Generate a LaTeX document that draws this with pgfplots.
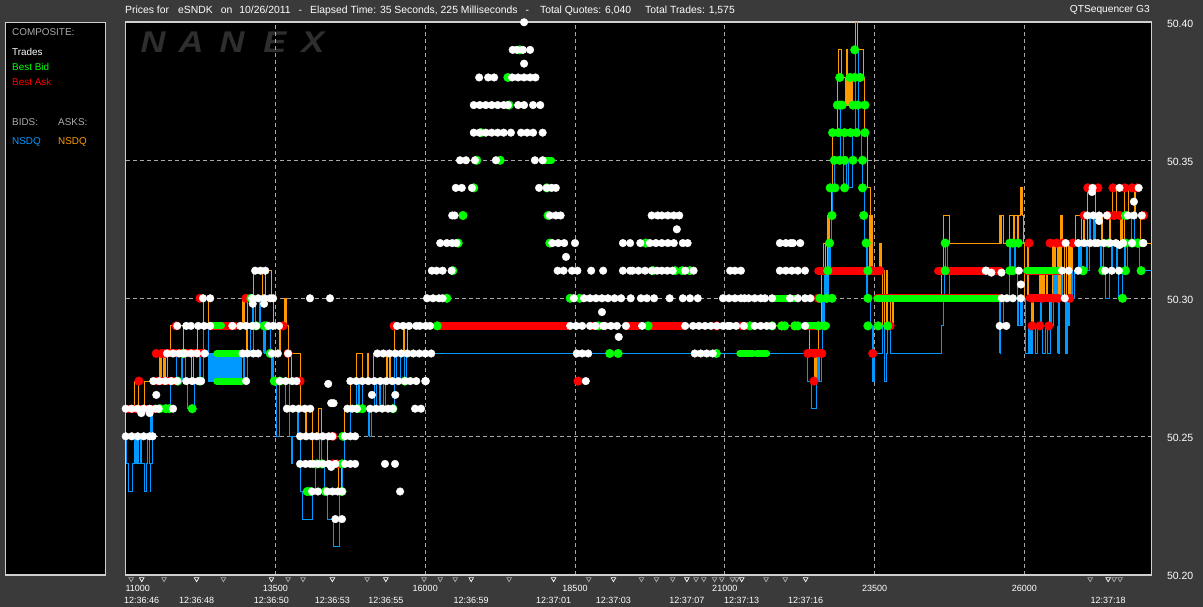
\documentclass[border=0pt]{standalone}
\usepackage{fontspec}
\setmainfont{Liberation Sans}
\usepackage{pgfplots}
\pgfplotsset{compat=1.18}
\definecolor{bg}{HTML}{3A3A3A}
\definecolor{frm}{HTML}{CFCFCF}
\definecolor{gridc}{HTML}{A8A8A8}
\definecolor{bidc}{HTML}{0099FF}
\definecolor{askc}{HTML}{FF9900}
\definecolor{lab}{HTML}{ABABAB}
\definecolor{logo}{HTML}{2E2E2E}
\newcommand\tx[4]{\node[anchor=west,inner sep=0pt,text=#3,font=\fontsize{9.9}{11}\selectfont] at (#1,{607-#2}) {#4};}
\newcommand\logoL[2]{\node[inner sep=0pt,text=logo,font=\fontsize{30}{30}\selectfont\bfseries\itshape] at (#1,{607-42.5}) {\scalebox{1.15}[1]{#2}};}
\newcommand\pulse[5]{\addplot[#1,line width=#2pt,forget plot] coordinates {(#3,#4)(#3,#5)};}
\pgfplotsset{
 base/.style={at={(125.5pt,32pt)},anchor=south west,scale only axis,width=1026pt,height=553pt,
   xmin=10996,xmax=28124,ymin=50.19975,ymax=50.4001,scaled x ticks=false,scaled y ticks=false},
 tradeM/.style={only marks,mark=*,color=white,mark size=3.8pt,mark options={fill=white,draw=white,line width=0.4pt},forget plot},
 bidM/.style={only marks,mark=*,color=green,mark size=4.3pt,mark options={fill=green,draw=green,line width=0.4pt},forget plot},
 askM/.style={only marks,mark=*,color=red,mark size=4.3pt,mark options={fill=red,draw=red,line width=0.4pt},forget plot},
 rb/.style={draw=red,line width=8pt,line cap=round,forget plot},
 gb/.style={draw=green,line width=7pt,line cap=round,forget plot},
}
\begin{document}
\begin{tikzpicture}[x=1pt,y=1pt]
\fill[bg] (0,0) rectangle (1203,607);
\fill[black,draw=frm,line width=1.2pt] (5.5,32) rectangle (105.5,584.5);
\fill[black] (125.5,32) rectangle (1151.5,585);
\logoL{153}{N}\logoL{191}{A}\logoL{232}{N}\logoL{275}{E}\logoL{313}{X}
\tx{12}{32}{lab}{COMPOSITE:}
\tx{12}{52}{white}{Trades}
\tx{12}{67}{green}{Best Bid}
\tx{12}{82}{red}{Best Ask}
\tx{12}{122}{lab}{BIDS:}
\tx{58}{122}{lab}{ASKS:}
\tx{12}{142}{bidc}{NSDQ}
\tx{58}{142}{askc}{NSDQ}
\node[anchor=west,inner sep=0pt,text=white,font=\fontsize{10.4}{11}\selectfont] at (125,596.5) {Prices for\hspace{9pt}eSNDK\hspace{8pt}on\hspace{7pt}10/26/2011\hspace{8pt}-\hspace{8pt}Elapsed Time: 35 Seconds, 225 Milliseconds\hspace{8pt}-\hspace{11pt}Total Quotes: 6,040\hspace{14pt}Total Trades: 1,575};
\node[anchor=east,inner sep=0pt,text=white,font=\fontsize{10.2}{11}\selectfont] at (1150,596.5) {QTSequencer G3};
\begin{axis}[base,
  axis line style={frm,line width=1.3pt},
  xtick={11000,13500,16000,18500,21000,23500,26000},
  xticklabels={\hspace*{24pt}11000,13500,16000,18500,21000,23500,26000},
  ytick={50.20,50.25,50.30,50.35,50.40},
  xmajorgrids,ymajorgrids,
  grid style={gridc,line width=0.9pt,dash pattern=on 4pt off 3pt},
  major tick length=0pt,
  yticklabel pos=right,
  x tick label style={font=\fontsize{9}{10}\selectfont,text=white,anchor=center,yshift=-13.5pt},
  y tick label style={font=\fontsize{10.5}{11}\selectfont,text=white,anchor=west,xshift=12pt,yshift=-1.5pt},
  yticklabel style={/pgf/number format/fixed,/pgf/number format/precision=2,/pgf/number format/fixed zerofill,/pgf/number format/assume math mode=true},
  axis on top=false,
]
% composite line and NSDQ ask / bid
\addplot[gray,line width=0.8pt,forget plot] coordinates {(16080,50.28)(22400,50.28)};
\addplot[fill=bidc,draw=none,forget plot] coordinates {(12380,50.2695)(12930,50.2695)(12930,50.28)(12380,50.28)};
\addplot[const plot,askc,line width=1pt,forget plot] coordinates {
(11000,50.26)(11140,50.27)(11220,50.26)(11320,50.27)(11570,50.28)(11590,50.27)(11605,50.28)(11625,50.27)(11655,50.28)(11670,50.27)(11690,50.28)(11755,50.29)(11970,50.28)(12105,50.27)(12125,50.28)(12205,50.29)(12290,50.30)(12375,50.29)(12960,50.30)(12975,50.29)(13010,50.28)(13025,50.29)(13040,50.30)(13125,50.31)(13275,50.30)(13340,50.31)(13440,50.30)(13475,50.29)(13575,50.28)(13590,50.29)(13660,50.30)(13690,50.29)(13710,50.27)(13775,50.28)(13910,50.26)(13995,50.25)(14010,50.26)(14110,50.24)(14125,50.25)(14210,50.26)(14275,50.24)(14360,50.25)(14375,50.24)(14560,50.23)(14595,50.24)(14660,50.26)(14745,50.27)(14860,50.28)(14945,50.27)(15030,50.28)(15060,50.27)(15130,50.28)(15360,50.27)(15375,50.28)(15410,50.27)(15425,50.28)(15495,50.29)(15630,50.28)(15650,50.29)(15660,50.28)(15700,50.29)
(22420,50.28)(22505,50.27)(22530,50.28)(22570,50.29)(22620,50.31)(22655,50.32)(22690,50.31)(22720,50.33)(22755,50.32)(22790,50.34)(22805,50.36)(22875,50.38)(22905,50.39)(22955,50.38)(23020,50.37)(23040,50.39)(23055,50.37)(23090,50.38)(23140,50.37)(23175,50.40)(23210,50.39)(23275,50.39)(23310,50.38)(23340,50.36)(23375,50.34)(23425,50.33)(23460,50.31)(23590,50.32)(23610,50.31)(23625,50.29)(23660,50.31)(23675,50.29)(23695,50.31)(23725,50.29)(23775,50.30)(23795,50.29)(23810,50.30)
(24610,50.31)(24645,50.33)(24745,50.32)(25580,50.33)(25595,50.32)(25625,50.33)(25645,50.32)(25760,50.33)(25825,50.32)(25845,50.33)(25895,50.32)(25910,50.33)(25940,50.34)(25975,50.33)(25995,50.32)(26010,50.30)(26060,50.32)(26075,50.30)(26140,50.29)(26160,50.30)(26260,50.31)(26275,50.30)(26310,50.31)(26325,50.30)(26375,50.31)(26390,50.30)(26425,50.29)(26445,50.30)(26475,50.32)(26510,50.31)(26560,50.32)(26592,50.30)(26625,50.33)(26645,50.32)(26675,50.30)(26710,50.32)(26745,50.30)(26775,50.32)(26792,50.30)(26810,50.32)(26860,50.33)(26960,50.32)(26990,50.33)(27010,50.32)(27060,50.34)(27193,50.33)(27290,50.32)(27310,50.33)(27427,50.32)(27445,50.33)(27480,50.34)(27544,50.33)(27610,50.32)(27630,50.33)(27644,50.32)(27677,50.34)(27745,50.33)(27845,50.34)(27860,50.33)(27945,50.32)(28124,50.32)};
\addplot[const plot,bidc,line width=1pt,forget plot] coordinates {
(11000,50.25)(11020,50.24)(11040,50.23)(11120,50.24)(11140,50.25)(11155,50.24)(11170,50.25)(11190,50.24)(11205,50.25)(11220,50.24)(11240,50.25)(11270,50.24)(11320,50.23)(11340,50.24)(11355,50.25)(11390,50.24)(11405,50.23)(11420,50.24)(11440,50.25)(11455,50.26)(11755,50.27)(11840,50.28)(11855,50.27)(11955,50.28)(11990,50.27)(12025,50.26)(12140,50.27)(12225,50.28)(12240,50.27)(12290,50.29)(12375,50.28)(12925,50.27)(12960,50.28)(12990,50.27)(13025,50.28)(13075,50.29)(13090,50.28)(13125,50.30)(13160,50.29)(13240,50.30)(13255,50.29)(13310,50.28)(13340,50.29)(13410,50.28)(13440,50.27)(13525,50.25)(13575,50.27)(13660,50.26)(13675,50.27)(13740,50.25)(13775,50.24)(13790,50.25)(13860,50.26)(13880,50.25)(13910,50.23)(13945,50.22)(14110,50.23)(14175,50.24)(14240,50.25)(14260,50.24)(14310,50.23)(14360,50.22)(14460,50.21)(14575,50.23)(14625,50.24)(14660,50.25)(14745,50.26)(14860,50.27)(14945,50.26)(15075,50.25)(15100,50.26)(15160,50.27)(15180,50.26)(15230,50.27)(15250,50.26)(15310,50.27)(15330,50.26)(15495,50.28)(15515,50.27)(15580,50.28)(15660,50.27)(15680,50.28)
(22380,50.27)(22450,50.26)(22530,50.27)(22560,50.28)(22575,50.27)(22610,50.28)(22640,50.29)(22660,50.30)(22690,50.31)(22755,50.32)(22780,50.33)(22805,50.34)(22840,50.35)(22925,50.37)(22940,50.36)(22975,50.35)(22990,50.34)(23040,50.35)(23060,50.34)(23140,50.36)(23190,50.39)(23225,50.37)(23240,50.36)(23290,50.35)(23305,50.34)(23325,50.33)(23340,50.32)(23375,50.30)(23425,50.29)(23460,50.27)(23495,50.28)(23590,50.28)(23640,50.29)(23675,50.27)(23695,50.28)(23725,50.29)(23760,50.28)
(24610,50.29)(24645,50.30)(24665,50.31)(24680,50.32)(24715,50.31)(24760,50.30)(25595,50.28)(25610,50.30)(25645,50.29)(25660,50.30)(25760,50.32)(25775,50.31)(25845,50.32)(25860,50.31)(25895,50.30)(25910,50.29)(25945,50.30)(25960,50.29)(25975,50.30)(26025,50.28)(26075,50.29)(26090,50.28)(26140,50.29)(26192,50.28)(26225,50.29)(26275,50.30)(26292,50.29)(26310,50.28)(26360,50.29)(26392,50.28)(26442,50.30)(26460,50.29)(26492,50.31)(26560,50.30)(26575,50.28)(26592,50.30)(26626,50.31)(26642,50.30)(26692,50.28)(26725,50.29)(26759,50.30)(26792,50.31)(26810,50.30)(26840,50.31)(26926,50.32)(26960,50.31)(27042,50.32)(27060,50.31)(27092,50.33)(27110,50.32)(27160,50.33)(27193,50.32)(27277,50.31)(27295,50.32)(27327,50.31)(27360,50.30)(27427,50.31)(27460,50.32)(27480,50.31)(27544,50.32)(27560,50.31)(27577,50.30)(27644,50.31)(27677,50.32)(27695,50.31)(27727,50.32)(27794,50.33)(27845,50.32)(27928,50.31)(28124,50.31)};
\addplot[bidc,line width=1pt,dash pattern=on 5pt off 2pt,forget plot] coordinates {(16080,50.28)(22400,50.28)};
% dense quote flicker, seen as thicker verticals
\pulse{bidc}{3}{22560}{50.27}{50.28}
\pulse{bidc}{3}{22650}{50.29}{50.30}
\pulse{bidc}{5}{22700}{50.30}{50.31}
\pulse{bidc}{3}{22755}{50.31}{50.32}
\pulse{bidc}{2}{23375}{50.30}{50.32}
\pulse{bidc}{2}{23470}{50.27}{50.29}
\pulse{askc}{2}{22500}{50.27}{50.28}
\pulse{askc}{2}{22720}{50.32}{50.33}
\pulse{askc}{4}{23090}{50.37}{50.38}
\pulse{askc}{3}{23430}{50.31}{50.33}
\pulse{askc}{2}{23590}{50.31}{50.32}
\pulse{bidc}{2}{11940}{50.27}{50.28}
\pulse{bidc}{2}{14890}{50.26}{50.27}
\pulse{bidc}{2}{15060}{50.25}{50.26}
\pulse{bidc}{2}{13770}{50.24}{50.25}
\pulse{bidc}{2}{13310}{50.28}{50.29}
\pulse{bidc}{2.5}{13460}{50.27}{50.28}
\pulse{bidc}{2}{11430}{50.25}{50.26}
\pulse{bidc}{3}{11170}{50.24}{50.25}
\pulse{bidc}{2}{13120}{50.29}{50.30}
\pulse{askc}{2}{11570}{50.27}{50.28}
\pulse{askc}{2}{12960}{50.29}{50.30}
\pulse{askc}{2}{13020}{50.28}{50.29}
\pulse{askc}{2.5}{13660}{50.29}{50.30}
\pulse{bidc}{4}{26090}{50.28}{50.29}
\pulse{bidc}{4}{26525}{50.30}{50.31}
\pulse{bidc}{2.5}{26560}{50.28}{50.29}
\pulse{bidc}{3}{26710}{50.28}{50.29}
\pulse{bidc}{3}{26725}{50.29}{50.30}
\pulse{bidc}{2.5}{26926}{50.31}{50.32}
\pulse{bidc}{2}{27160}{50.32}{50.33}
\pulse{bidc}{2}{25960}{50.29}{50.30}
\pulse{bidc}{2}{25600}{50.28}{50.30}
\pulse{bidc}{2}{25770}{50.31}{50.32}
\pulse{bidc}{2}{25845}{50.31}{50.32}
\pulse{bidc}{2}{25900}{50.29}{50.30}
\pulse{askc}{2}{25960}{50.33}{50.34}
\pulse{askc}{2.5}{26140}{50.29}{50.30}
\pulse{askc}{4}{26290}{50.30}{50.31}
\pulse{askc}{2.5}{26325}{50.30}{50.31}
\pulse{askc}{3}{26510}{50.31}{50.32}
\pulse{askc}{3}{26592}{50.30}{50.32}
\pulse{askc}{2.5}{26625}{50.32}{50.33}
\pulse{askc}{2.5}{26745}{50.30}{50.32}
% best ask bars
\addplot[rb] coordinates {(12410,50.29)(12830,50.29)};
\addplot[rb] coordinates {(16190,50.29)(18380,50.29)};
\addplot[rb] coordinates {(18770,50.29)(18900,50.29)};
\addplot[rb] coordinates {(19360,50.29)(19550,50.29)};
\addplot[rb] coordinates {(19750,50.29)(20300,50.29)};
\addplot[rb] coordinates {(22380,50.29)(22620,50.29)};
\addplot[rb] coordinates {(22380,50.28)(22620,50.28)};
\addplot[rb] coordinates {(22560,50.31)(23590,50.31)};
\addplot[rb] coordinates {(23540,50.30)(25590,50.30)};
\addplot[rb] coordinates {(24560,50.31)(25600,50.31)};
\addplot[rb] coordinates {(26090,50.30)(26480,50.30)};
\addplot[rb] coordinates {(26040,50.31)(26590,50.31)};
\addplot[rb] coordinates {(11000,50.26)(11550,50.26)};
\addplot[rb] coordinates {(11700,50.28)(12300,50.28)};
\addplot[rb] coordinates {(11500,50.27)(11860,50.27)};
\addplot[rb] coordinates {(21270,50.29)(21350,50.29)};
% best bid bars
\addplot[gb] coordinates {(12520,50.28)(12960,50.28)};
\addplot[gb] coordinates {(12520,50.27)(12940,50.27)};
\addplot[gb] coordinates {(12410,50.29)(12600,50.29)};
\addplot[gb] coordinates {(17960,50.35)(18110,50.35)};
\addplot[gb] coordinates {(23540,50.30)(25590,50.30)};
\addplot[gb] coordinates {(26040,50.31)(26590,50.31)};
\addplot[gb] coordinates {(21790,50.30)(22210,50.30)};
\addplot[gb] coordinates {(22390,50.29)(22700,50.29)};
\addplot[gb] coordinates {(21250,50.28)(21470,50.28)};
\addplot[gb] coordinates {(21530,50.28)(21700,50.28)};
% best ask marks
\addplot[askM] coordinates {(11220,50.27)(11510,50.28)(11600,50.28)(11660,50.28)(11840,50.29)(12240,50.30)(13008,50.30)(13625,50.29)(13710,50.28)(13910,50.27)(14460,50.25)(14530,50.24)(14460,50.24)(15480,50.29)(18550,50.27)(23590,50.31)(23460,50.31)(22560,50.30)(23760,50.29)(22390,50.28)(22500,50.28)(22620,50.28)(23470,50.28)(22490,50.27)(27060,50.34)(27230,50.34)(27480,50.34)(27680,50.34)(27800,50.34)(27880,50.34)(27000,50.33)(27400,50.33)(27500,50.33)(27590,50.33)(27990,50.33)(26080,50.32)(26430,50.32)(26540,50.32)(26650,50.32)(26810,50.32)(26130,50.29)(26260,50.29)(26410,50.29)(26130,50.30)(26290,50.30)(26480,50.30)(26560,50.30)(26760,50.30)(21950,50.29)(22170,50.29)(20860,50.29)};
% best bid marks
\addplot[bidM] coordinates {(11570,50.26)(11670,50.26)(11730,50.26)(12110,50.26)(14870,50.26)(14950,50.26)(15460,50.26)(13480,50.27)(13570,50.27)(12240,50.27)(11870,50.27)(15660,50.27)(13410,50.28)(11960,50.28)(13175,50.29)(13310,50.29)(13350,50.29)(13090,50.30)(14190,50.24)(14280,50.24)(14610,50.24)(14030,50.23)(14080,50.23)(14330,50.23)(14610,50.23)(14625,50.25)(17380,50.38)(17580,50.39)(17400,50.37)(16930,50.36)(16860,50.35)(17250,50.35)(16810,50.34)(18030,50.34)(16630,50.33)(18050,50.33)(16550,50.32)(18080,50.32)(19680,50.32)(16460,50.31)(19800,50.31)(20170,50.31)(20290,50.31)(20420,50.31)(16360,50.30)(18420,50.30)(18580,50.30)(16200,50.29)(19720,50.29)(18890,50.29)(19080,50.28)(19220,50.28)(20860,50.28)
(21420,50.29)(21790,50.29)(21950,50.29)(22000,50.29)(22170,50.29)(22220,50.29)(23170,50.39)(22920,50.38)(23090,50.38)(23170,50.38)(23260,50.38)(22920,50.37)(22880,50.37)(22960,50.37)(23140,50.37)(23220,50.37)(23340,50.37)(22800,50.36)(22900,50.36)(23000,50.36)(23100,50.36)(23200,50.36)(23340,50.36)(22830,50.35)(22920,50.35)(23000,50.35)(23140,50.35)(23300,50.35)(22760,50.34)(22840,50.34)(23000,50.34)(23300,50.34)(22790,50.33)(23320,50.33)(22750,50.32)(23360,50.32)(22720,50.31)(23390,50.31)(22590,50.30)(22700,50.30)(22790,50.30)(23390,50.30)(22560,50.29)(22670,50.29)(23390,50.29)(23560,50.29)(23720,50.29)(24680,50.32)(25760,50.32)(25810,50.32)(25900,50.32)(24680,50.31)(25760,50.31)(25810,50.31)(26980,50.31)(27310,50.31)(27690,50.33)(27950,50.31)(27690,50.32)(27800,50.32)(27890,50.32)(27900,50.32)(27640,50.30)(27690,50.31)(26980,50.31)(27410,50.32)};
% trades
\addplot[tradeM] coordinates {
(11000,50.26)(11100,50.26)(11200,50.26)(11300,50.26)(11400,50.26)(11500,50.26)(11550,50.26)(11790,50.26)(13690,50.26)(13790,50.26)(13890,50.26)(13990,50.26)(14080,50.26)(14700,50.26)(14780,50.26)(14860,50.26)(15080,50.26)(15180,50.26)(15280,50.26)(15380,50.26)(15460,50.26)(15830,50.26)(15930,50.26)
(11000,50.25)(11100,50.25)(11200,50.25)(11300,50.25)(11400,50.25)(11450,50.25)(13910,50.25)(14010,50.25)(14110,50.25)(14190,50.25)(14290,50.25)(14390,50.25)(14450,50.25)(14660,50.25)(14750,50.25)(14830,50.25)
(13910,50.24)(14000,50.24)(14080,50.24)(14130,50.24)(14210,50.24)(14290,50.24)(14390,50.24)(14500,50.24)(14660,50.24)(14750,50.24)(14830,50.24)(15328,50.24)(15495,50.24)
(14110,50.23)(14210,50.23)(14360,50.23)(14450,50.23)(14540,50.23)(14610,50.23)(15580,50.23)(14500,50.22)(14610,50.22)
(11260,50.2584)(11400,50.2584)(11510,50.265)(14380,50.269)(14430,50.262)(14470,50.262)(15110,50.265)(15500,50.265)(14430,50.2389)(13120,50.298)(13310,50.298)
(11460,50.27)(11560,50.27)(11660,50.27)(11760,50.27)(11860,50.27)(12010,50.27)(12110,50.27)(12210,50.27)(12260,50.27)(13010,50.27)(13570,50.27)(13670,50.27)(13780,50.27)(13850,50.27)(14750,50.27)(14850,50.27)(14950,50.27)(15050,50.27)(15150,50.27)(15250,50.27)(15350,50.27)(15450,50.27)(15550,50.27)(15660,50.27)(15750,50.27)(15850,50.27)(16000,50.27)
(11690,50.28)(11790,50.28)(11890,50.28)(11960,50.28)(11990,50.28)(12090,50.28)(12190,50.28)(12320,50.28)(12950,50.28)(13030,50.28)(13130,50.28)(13210,50.28)(13440,50.28)(13540,50.28)(13710,50.28)(15200,50.28)(15300,50.28)(15400,50.28)(15500,50.28)(15600,50.28)(15700,50.28)(15800,50.28)(15900,50.28)(16000,50.28)(16100,50.28)(18530,50.28)(18620,50.28)(18720,50.28)(20500,50.28)(20600,50.28)(20700,50.28)(20800,50.28)
(11860,50.29)(12010,50.29)(12090,50.29)(12210,50.29)(12310,50.29)(12410,50.29)(12780,50.29)(12910,50.29)(13010,50.29)(13110,50.29)(13180,50.29)(13380,50.29)(13460,50.29)(13560,50.29)(15530,50.29)(15630,50.29)(15730,50.29)(15850,50.29)(15910,50.29)(16010,50.29)(16080,50.29)(18420,50.29)(18520,50.29)(18620,50.29)(18750,50.29)(18840,50.29)(18970,50.29)(19000,50.29)(19100,50.29)(19200,50.29)(19350,50.29)(19620,50.29)(20340,50.29)(20470,50.29)(20570,50.29)(20670,50.29)(20770,50.29)(20870,50.29)(20970,50.29)(21050,50.29)(21090,50.29)(21190,50.29)(21320,50.29)(21500,50.29)(21600,50.29)(21700,50.29)(21790,50.29)(22340,50.29)(25590,50.29)(25700,50.29)
(12290,50.30)(12410,50.30)(13110,50.30)(13210,50.30)(13310,50.30)(13410,50.30)(13460,50.30)(14076,50.30)(14410,50.30)(16030,50.30)(16130,50.30)(16230,50.30)(16290,50.30)(18480,50.30)(18650,50.30)(18750,50.30)(18850,50.30)(18950,50.30)(19050,50.30)(19160,50.30)(19270,50.30)(19430,50.30)(19600,50.30)(19700,50.30)(19820,50.30)(20080,50.30)(20300,50.30)(20420,50.30)(20550,50.30)(20970,50.30)(21070,50.30)(21170,50.30)(21270,50.30)(21330,50.30)(21400,50.30)(21500,50.30)(21600,50.30)(21670,50.30)(21790,50.30)(22090,50.30)(22220,50.30)(22340,50.30)(22430,50.30)(25625,50.30)(25710,50.30)(25810,50.30)(25943,50.30)(26677,50.30)
(13160,50.31)(13250,50.31)(13330,50.31)(16110,50.31)(16190,50.31)(16290,50.31)(16440,50.31)(18210,50.31)(18310,50.31)(18450,50.31)(18540,50.31)(18770,50.31)(18970,50.31)(19300,50.31)(19420,50.31)(19460,50.31)(19560,50.31)(19670,50.31)(19780,50.31)(19870,50.31)(19950,50.31)(20040,50.31)(20130,50.31)(20340,50.31)(20480,50.31)(21090,50.31)(21170,50.31)(21270,50.31)(21920,50.31)(22020,50.31)(22120,50.31)(22220,50.31)(22340,50.31)(25360,50.31)(25910,50.31)(26630,50.31)(26740,50.31)(26900,50.31)(27350,50.31)(27460,50.31)(27580,50.31)
(16250,50.32)(16360,50.32)(16450,50.32)(16520,50.32)(18120,50.32)(18220,50.32)(18320,50.32)(18500,50.32)(19300,50.32)(19420,50.32)(19590,50.32)(19750,50.32)(19850,50.32)(19950,50.32)(20050,50.32)(20150,50.32)(20300,50.32)(20380,50.32)(21920,50.32)(22020,50.32)(22100,50.32)(22140,50.32)(22260,50.32)(26690,50.32)(26900,50.32)(27000,50.32)(27100,50.32)(27180,50.32)(27230,50.32)(27330,50.32)(27430,50.32)(27530,50.32)(27650,50.32)(27800,50.32)(27980,50.32)
(16490,50.33)(16450,50.33)(18080,50.33)(18180,50.33)(18260,50.33)(19780,50.33)(19880,50.33)(19950,50.33)(20050,50.33)(20150,50.33)(20240,50.33)(27050,50.33)(27150,50.33)(27250,50.33)(27380,50.33)(27730,50.33)(27830,50.33)(27962,50.33)
(16510,50.34)(16610,50.34)(16780,50.34)(17900,50.34)(18030,50.34)(18110,50.34)(18180,50.34)(27140,50.34)(27590,50.34)(27910,50.34)
(16580,50.35)(16680,50.35)(16830,50.35)(17180,50.35)(17830,50.35)(17960,50.35)
(16810,50.36)(16910,50.36)(17010,50.36)(17110,50.36)(17210,50.36)(17310,50.36)(17430,50.36)(17600,50.36)(17700,50.36)(17800,50.36)(17960,50.36)
(16810,50.37)(16910,50.37)(17010,50.37)(17110,50.37)(17210,50.37)(17310,50.37)(17380,50.37)(17550,50.37)(17650,50.37)(17800,50.37)(17920,50.37)
(16900,50.38)(17050,50.38)(17150,50.38)(17450,50.38)(17550,50.38)(17650,50.38)(17750,50.38)(17840,50.38)
(17460,50.39)(17530,50.39)(17630,50.39)(17750,50.39)(17650,50.40)(17650,50.385)
(20200,50.325)(18350,50.315)(18950,50.295)(19230,50.286)(18680,50.27)(16010,50.27)
(27130,50.3385)(27830,50.335)(27250,50.328)(27590,50.3193)(25450,50.3093)(25620,50.3093)(25945,50.305)(25360,50.31)(27990,50.32)};
\end{axis}
\begin{axis}[base,clip=false,axis line style={draw=none},
  ytick=\empty,major tick length=0pt,
  xtick={11267,12183,13433,14450,15342,16767,18142,19142,20367,21283,22350,27400},
  xticklabels={12:36:46,12:36:48,12:36:50,12:36:53,12:36:55,12:36:59,12:37:01,12:37:03,12:37:07,12:37:13,12:37:16,12:37:18},
  x tick label style={font=\fontsize{9}{10}\selectfont,text=white,anchor=center,yshift=-25pt},
]
\addplot[only marks,mark=triangle,mark size=2.7pt,color=lab,mark options={draw=lab,fill=none,rotate=180,line width=0.7pt},forget plot] coordinates {
(11090,50.1983)(11640,50.1983)(12630,50.1983)(13710,50.1983)(13960,50.1983)(15030,50.1983)(15980,50.1983)(16250,50.1983)(16500,50.1983)(17400,50.1983)(18730,50.1983)(19610,50.1983)(19860,50.1983)(20130,50.1983)(20520,50.1983)(20650,50.1983)(20830,50.1983)(20950,50.1983)(21130,50.1983)(21200,50.1983)(21690,50.1983)(22010,50.1983)(27100,50.1983)(27500,50.1983)(27600,50.1983)};
\addplot[only marks,mark=triangle,mark size=2.7pt,color=white,mark options={draw=white,fill=none,rotate=180,line width=0.7pt},forget plot] coordinates {
(11267,50.1983)(12183,50.1983)(13433,50.1983)(14450,50.1983)(15342,50.1983)(16767,50.1983)(18142,50.1983)(19142,50.1983)(20367,50.1983)(21283,50.1983)(22350,50.1983)(27400,50.1983)};
\end{axis}
\pgfresetboundingbox
\path[use as bounding box] (0,0) rectangle (1203,607);
\end{tikzpicture}
\end{document}
